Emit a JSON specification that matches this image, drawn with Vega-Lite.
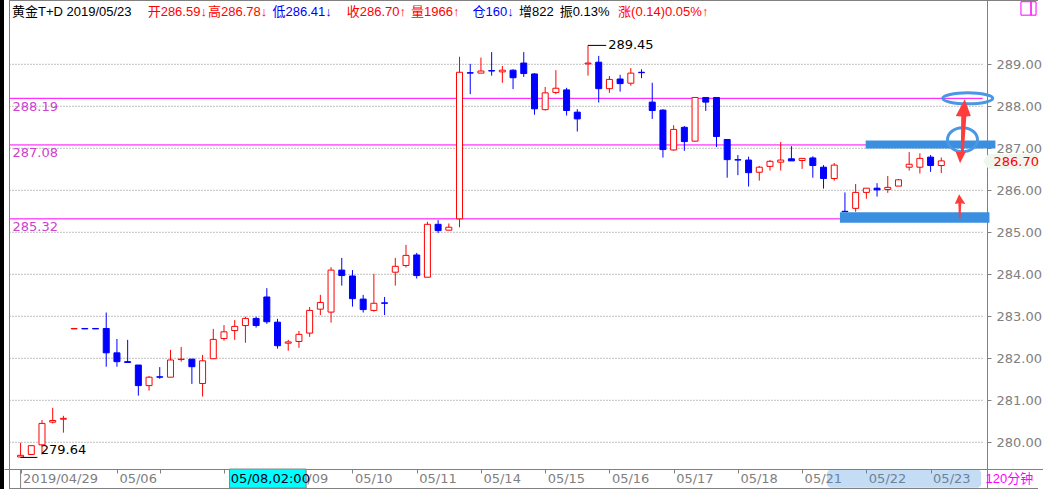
{
  "$schema": "https://vega.github.io/schema/vega-lite/v6.json",
  "width": 1039,
  "height": 489,
  "autosize": {"type": "none"},
  "padding": {"left": 4, "top": 0, "right": 0, "bottom": 0},
  "background": "#000000",
  "config": {
    "view": {"stroke": null, "fill": "#ffffff"},
    "text": {"font": "Liberation Sans, Noto Sans CJK SC", "fontSize": 13}
  },
  "datasets": {
    "k": [
      {"i":0,"o":279.65,"h":279.99,"l":279.64,"c":279.69},
      {"i":1,"o":279.71,"h":279.93,"l":279.70,"c":279.92},
      {"i":2,"o":279.94,"h":280.53,"l":279.71,"c":280.45},
      {"i":3,"o":280.48,"h":280.82,"l":280.45,"c":280.52},
      {"i":4,"o":280.55,"h":280.63,"l":280.23,"c":280.57},
      {"i":5,"o":282.70,"h":282.71,"l":282.70,"c":282.71},
      {"i":6,"o":282.71,"h":282.71,"l":282.70,"c":282.70},
      {"i":7,"o":282.71,"h":282.71,"l":282.70,"c":282.70},
      {"i":8,"o":282.71,"h":283.09,"l":281.80,"c":282.13},
      {"i":9,"o":282.13,"h":282.46,"l":281.80,"c":281.92},
      {"i":10,"o":281.92,"h":282.44,"l":281.90,"c":281.90},
      {"i":11,"o":281.84,"h":281.84,"l":281.11,"c":281.35},
      {"i":12,"o":281.35,"h":281.58,"l":281.23,"c":281.55},
      {"i":13,"o":281.56,"h":281.79,"l":281.51,"c":281.55},
      {"i":14,"o":281.55,"h":282.20,"l":281.55,"c":281.96},
      {"i":15,"o":281.97,"h":282.27,"l":281.92,"c":281.98},
      {"i":16,"o":281.98,"h":281.98,"l":281.39,"c":281.80},
      {"i":17,"o":281.40,"h":282.08,"l":281.09,"c":281.94},
      {"i":18,"o":281.99,"h":282.70,"l":281.98,"c":282.45},
      {"i":19,"o":282.47,"h":282.79,"l":282.42,"c":282.63},
      {"i":20,"o":282.66,"h":282.91,"l":282.44,"c":282.76},
      {"i":21,"o":282.78,"h":282.99,"l":282.37,"c":282.95},
      {"i":22,"o":282.95,"h":282.99,"l":282.73,"c":282.78},
      {"i":23,"o":283.46,"h":283.67,"l":282.82,"c":282.87},
      {"i":24,"o":282.86,"h":282.94,"l":282.23,"c":282.30},
      {"i":25,"o":282.36,"h":282.44,"l":282.18,"c":282.39},
      {"i":26,"o":282.40,"h":282.65,"l":282.25,"c":282.57},
      {"i":27,"o":282.60,"h":283.22,"l":282.51,"c":283.14},
      {"i":28,"o":283.17,"h":283.51,"l":283.03,"c":283.33},
      {"i":29,"o":283.10,"h":284.17,"l":282.85,"c":284.10},
      {"i":30,"o":284.10,"h":284.39,"l":283.73,"c":283.97},
      {"i":31,"o":283.96,"h":284.10,"l":283.23,"c":283.42},
      {"i":32,"o":283.41,"h":283.51,"l":283.09,"c":283.16},
      {"i":33,"o":283.14,"h":284.01,"l":283.11,"c":283.31},
      {"i":34,"o":283.32,"h":283.46,"l":283.03,"c":283.31},
      {"i":35,"o":284.05,"h":284.39,"l":283.73,"c":284.19},
      {"i":36,"o":284.21,"h":284.70,"l":284.16,"c":284.45},
      {"i":37,"o":284.46,"h":284.51,"l":283.90,"c":283.97},
      {"i":38,"o":283.93,"h":285.25,"l":283.93,"c":285.19},
      {"i":39,"o":285.19,"h":285.29,"l":284.98,"c":285.04},
      {"i":40,"o":285.05,"h":285.21,"l":285.05,"c":285.12},
      {"i":41,"o":285.32,"h":289.18,"l":285.12,"c":288.81},
      {"i":42,"o":288.80,"h":289.01,"l":288.29,"c":288.79},
      {"i":43,"o":288.79,"h":289.16,"l":288.79,"c":288.84},
      {"i":44,"o":288.85,"h":289.29,"l":288.73,"c":288.84},
      {"i":45,"o":288.82,"h":288.96,"l":288.56,"c":288.86},
      {"i":46,"o":288.86,"h":288.88,"l":288.41,"c":288.68},
      {"i":47,"o":289.03,"h":289.29,"l":288.70,"c":288.78},
      {"i":48,"o":288.77,"h":288.79,"l":287.80,"c":287.94},
      {"i":49,"o":287.92,"h":288.46,"l":287.90,"c":288.32},
      {"i":50,"o":288.33,"h":288.86,"l":288.29,"c":288.43},
      {"i":51,"o":288.39,"h":288.44,"l":287.78,"c":287.90},
      {"i":52,"o":287.86,"h":287.93,"l":287.40,"c":287.70},
      {"i":53,"o":289.01,"h":289.45,"l":288.73,"c":289.03},
      {"i":54,"o":289.05,"h":289.20,"l":288.09,"c":288.42},
      {"i":55,"o":288.42,"h":288.72,"l":288.32,"c":288.64},
      {"i":56,"o":288.65,"h":288.75,"l":288.35,"c":288.54},
      {"i":57,"o":288.55,"h":288.91,"l":288.49,"c":288.79},
      {"i":58,"o":288.81,"h":288.88,"l":288.67,"c":288.80},
      {"i":59,"o":288.10,"h":288.56,"l":287.70,"c":287.90},
      {"i":60,"o":287.91,"h":287.93,"l":286.78,"c":286.97},
      {"i":61,"o":286.96,"h":287.55,"l":286.94,"c":287.45},
      {"i":62,"o":287.50,"h":287.53,"l":286.94,"c":287.16},
      {"i":63,"o":287.17,"h":288.22,"l":287.16,"c":288.21},
      {"i":64,"o":288.21,"h":288.21,"l":287.89,"c":288.10},
      {"i":65,"o":288.21,"h":288.21,"l":287.03,"c":287.28},
      {"i":66,"o":287.21,"h":287.21,"l":286.30,"c":286.73},
      {"i":67,"o":286.73,"h":286.84,"l":286.36,"c":286.72},
      {"i":68,"o":286.72,"h":286.80,"l":286.09,"c":286.42},
      {"i":69,"o":286.43,"h":286.58,"l":286.23,"c":286.55},
      {"i":70,"o":286.57,"h":286.72,"l":286.47,"c":286.69},
      {"i":71,"o":286.67,"h":287.15,"l":286.47,"c":286.72},
      {"i":72,"o":286.75,"h":287.05,"l":286.70,"c":286.70},
      {"i":73,"o":286.71,"h":286.77,"l":286.51,"c":286.76},
      {"i":74,"o":286.77,"h":286.81,"l":286.30,"c":286.59},
      {"i":75,"o":286.55,"h":286.60,"l":286.04,"c":286.28},
      {"i":76,"o":286.28,"h":286.65,"l":286.23,"c":286.60},
      {"i":77,"o":285.50,"h":285.95,"l":285.48,"c":285.49},
      {"i":78,"o":285.57,"h":286.15,"l":285.49,"c":285.95},
      {"i":79,"o":285.95,"h":286.05,"l":285.80,"c":286.05},
      {"i":80,"o":286.05,"h":286.17,"l":285.85,"c":286.01},
      {"i":81,"o":286.02,"h":286.34,"l":285.94,"c":286.07},
      {"i":82,"o":286.10,"h":286.27,"l":286.10,"c":286.25},
      {"i":83,"o":286.55,"h":286.91,"l":286.47,"c":286.62},
      {"i":84,"o":286.55,"h":286.88,"l":286.40,"c":286.76},
      {"i":85,"o":286.79,"h":286.84,"l":286.44,"c":286.59},
      {"i":86,"o":286.59,"h":286.78,"l":286.41,"c":286.70}
    ],
    "grid": [{"p":280},{"p":281},{"p":282},{"p":283},{"p":284},{"p":285},{"p":286},{"p":287},{"p":288},{"p":289}],
    "levels": [{"p":288.19,"t":"288.19"},{"p":287.08,"t":"287.08"},{"p":285.32,"t":"285.32"}],
    "one": [{}]
  },
  "layer": [
    {
      "data": {"name": "grid"},
      "mark": {"type": "rule", "color": "#808080", "strokeDash": [1, 2]},
      "encoding": {
        "y": {"field": "p", "type": "quantitative", "scale": {"domain": [278.888, 290.531], "nice": false, "zero": false},
          "axis": {"orient": "right", "offset": -56, "values": [280,281,282,283,284,285,286,287,288,289], "format": ".2f", "title": null, "grid": false,
            "domainColor": "#808080", "tickColor": "#808080", "tickSize": 4, "labelColor": "#808080", "labelFont": "DejaVu Sans", "labelFontSize": 13,
            "labelAlign": "left", "labelBaseline": "middle", "labelPadding": 5, "labelOverlap": false, "labelFlush": false, "labelBound": false, "zindex": 0}},
        "x": {"datum": -1.036, "type": "quantitative", "scale": {"domain": [-1.0823, 95.033], "nice": false, "zero": false},
          "axis": {"orient": "bottom", "offset": -20, "values": [0,9,13,19,25,31,37,43,49,55,61,67,73,79,85],
            "labelExpr": "['2019/04/29','05/06','','','05/09','05/10','05/11','05/14','05/15','05/16','05/17','05/18','05/21','05/22','05/23'][indexof([0,9,13,19,25,31,37,43,49,55,61,67,73,79,85], datum.value)]",
            "title": null, "grid": false, "domainColor": "#808080", "tickColor": "#808080", "tickSize": 4, "labelColor": "#808080",
            "labelFont": "DejaVu Sans", "labelFontSize": 13, "labelAlign": "left", "labelBaseline": "middle", "labelPadding": 5, "labelOffset": 2,
            "labelOverlap": false, "labelFlush": false, "labelBound": false, "zindex": 0}},
        "x2": {"datum": 89.87}
      }
    },
    {
      "data": {"name": "levels"},
      "mark": {"type": "rule", "color": "#ff00ff", "strokeWidth": 1},
      "encoding": {
        "y": {"field": "p", "type": "quantitative"},
        "x": {"datum": -1.036, "type": "quantitative"},
        "x2": {"datum": 89.87}
      }
    },
    {
      "data": {"name": "levels"},
      "mark": {"type": "text", "align": "left", "baseline": "middle", "dx": 3, "dy": 8.5, "color": "#d040d0", "font": "DejaVu Sans", "fontSize": 13},
      "encoding": {
        "y": {"field": "p", "type": "quantitative"},
        "x": {"datum": -1.036, "type": "quantitative"},
        "text": {"field": "t"}
      }
    },
    {
      "data": {"name": "k"},
      "mark": {"type": "rule", "strokeWidth": 1},
      "encoding": {
        "x": {"field": "i", "type": "quantitative"},
        "y": {"field": "l", "type": "quantitative"},
        "y2": {"field": "h"},
        "color": {"condition": {"test": "datum.c > datum.o", "value": "#ff0000"}, "value": "#0000ff"}
      }
    },
    {
      "data": {"name": "k"},
      "mark": {"type": "bar", "size": 6, "strokeWidth": 1},
      "encoding": {
        "x": {"field": "i", "type": "quantitative"},
        "y": {"field": "o", "type": "quantitative"},
        "y2": {"field": "c"},
        "fill": {"condition": {"test": "datum.c > datum.o", "value": "#ffffff"}, "value": "#0000ff"},
        "stroke": {"condition": {"test": "datum.c > datum.o", "value": "#ff0000"}, "value": "#0000ff"}
      }
    },
    {
      "data": {"name": "one"},
      "mark": {"type": "rule", "color": "#000000"},
      "encoding": {"x": {"datum": 53, "type": "quantitative"}, "x2": {"datum": 54.7}, "y": {"datum": 289.45, "type": "quantitative"}}
    },
    {
      "data": {"name": "one"},
      "mark": {"type": "text", "align": "left", "baseline": "middle", "color": "#000000", "text": "289.45", "font": "DejaVu Sans", "fontSize": 13},
      "encoding": {"x": {"datum": 54.88, "type": "quantitative"}, "y": {"datum": 289.45, "type": "quantitative"}}
    },
    {
      "data": {"name": "one"},
      "mark": {"type": "rule", "color": "#000000"},
      "encoding": {"x": {"datum": 0, "type": "quantitative"}, "x2": {"datum": 1.57}, "y": {"datum": 279.64, "type": "quantitative"}}
    },
    {
      "data": {"name": "one"},
      "mark": {"type": "text", "align": "left", "baseline": "alphabetic", "dy": -3, "color": "#000000", "text": "279.64", "font": "DejaVu Sans", "fontSize": 13},
      "encoding": {"x": {"datum": 1.88, "type": "quantitative"}, "y": {"datum": 279.64, "type": "quantitative"}}
    },
    {
      "data": {"name": "one"},
      "mark": {"type": "rect", "color": "#3b8fe0"},
      "encoding": {"x": {"datum": 78.935, "type": "quantitative"}, "x2": {"datum": 91.055}, "y": {"datum": 287.186, "type": "quantitative"}, "y2": {"datum": 286.995}}
    },
    {
      "data": {"name": "one"},
      "mark": {"type": "rect", "color": "#3b8fe0"},
      "encoding": {"x": {"datum": 76.531, "type": "quantitative"}, "x2": {"datum": 90.499}, "y": {"datum": 285.476, "type": "quantitative"}, "y2": {"datum": 285.229}}
    },
    {
      "data": {"name": "one"},
      "mark": {"type": "point", "filled": false, "stroke": "#4a98e4", "strokeWidth": 3, "opacity": 1, "size": 2500,
        "shape": "M-1,0A1,0.22,0,1,1,1,0A1,0.22,0,1,1,-1,0Z"},
      "encoding": {"x": {"datum": 88.47, "type": "quantitative"}, "y": {"datum": 288.19, "type": "quantitative"}}
    },
    {
      "data": {"name": "one"},
      "mark": {"type": "point", "filled": false, "stroke": "#4a98e4", "strokeWidth": 3, "opacity": 1, "size": 900,
        "shape": "M-1,0A1,0.8,0,1,1,1,0A1,0.8,0,1,1,-1,0Z"},
      "encoding": {"x": {"datum": 87.98, "type": "quantitative"}, "y": {"datum": 287.205, "type": "quantitative"}}
    },
    {
      "data": {"name": "one"},
      "mark": {"type": "point", "filled": true, "color": "#ff3c3c", "opacity": 1, "size": 4096,
        "shape": "M0.07,-1L0.26,-0.48L0.12,-0.46L0.04,0.65L0.1,0.65L-0.075,1L-0.21,0.65L-0.05,0.65L-0.04,-0.46L-0.21,-0.48Z"},
      "encoding": {"x": {"datum": 87.98, "type": "quantitative"}, "y": {"datum": 287.405, "type": "quantitative"}}
    },
    {
      "data": {"name": "one"},
      "mark": {"type": "point", "filled": true, "color": "#ff3c3c", "opacity": 1, "size": 576,
        "shape": "M-0.06,-1L0.46,-0.2L0.12,-0.25L0.06,1L-0.08,1L-0.12,-0.25L-0.42,-0.2Z"},
      "encoding": {"x": {"datum": 87.73, "type": "quantitative"}, "y": {"datum": 285.619, "type": "quantitative"}}
    },
    {
      "data": {"name": "one"},
      "mark": {"type": "point", "filled": true, "color": "#eef6ee", "opacity": 1, "size": 3025,
        "shape": "M-1,0L-0.82,-0.27L1,-0.27L1,0.27L-0.82,0.27Z"},
      "encoding": {"x": {"datum": 92.49, "type": "quantitative"}, "y": {"datum": 286.69, "type": "quantitative"}}
    },
    {
      "data": {"name": "one"},
      "mark": {"type": "text", "align": "left", "baseline": "middle", "color": "#ff0000", "text": "286.70", "font": "DejaVu Sans", "fontSize": 13},
      "encoding": {"x": {"datum": 90.87, "type": "quantitative"}, "y": {"datum": 286.675, "type": "quantitative"}}
    },
    {
      "data": {"name": "one"},
      "mark": {"type": "rect", "color": "#3e8ade", "opacity": 0.3, "cornerRadius": 4},
      "encoding": {"x": {"datum": 75.33, "type": "quantitative"}, "x2": {"datum": 89.73}, "y": {"datum": 279.35, "type": "quantitative"}, "y2": {"datum": 278.92}}
    },
    {
      "data": {"name": "one"},
      "mark": {"type": "rect", "color": "#00ffff", "stroke": "#808080", "strokeWidth": 1},
      "encoding": {"x": {"datum": 19.52, "type": "quantitative"}, "x2": {"datum": 26.67}, "y": {"datum": 279.363, "type": "quantitative"}, "y2": {"datum": 278.91}}
    },
    {
      "data": {"name": "one"},
      "mark": {"type": "text", "align": "left", "baseline": "middle", "color": "#000020", "text": "05/08,02:00", "font": "DejaVu Sans", "fontSize": 13},
      "encoding": {"x": {"datum": 19.64, "type": "quantitative"}, "y": {"datum": 279.138, "type": "quantitative"}}
    },
    {
      "data": {"name": "one"},
      "mark": {"type": "text", "align": "left", "baseline": "middle", "color": "#ff00ff", "text": "120分钟"},
      "encoding": {"x": {"datum": 90.13, "type": "quantitative"}, "y": {"datum": 279.138, "type": "quantitative"}}
    },
    {
      "data": {"name": "one"},
      "mark": {"type": "rule", "color": "#808080"},
      "encoding": {"x": {"datum": 0, "type": "quantitative"}, "y": {"datum": 279.363, "type": "quantitative"}, "y2": {"datum": 278.9}}
    },
    {
      "data": {"name": "one"},
      "mark": {"type": "rule", "color": "#808080"},
      "encoding": {"x": {"datum": -1.036, "type": "quantitative"}, "y": {"datum": 290.531, "type": "quantitative"}, "y2": {"datum": 278.888}}
    },
    {
      "data": {"name": "one"},
      "mark": {"type": "rule", "color": "#808080"},
      "encoding": {"x": {"datum": -1.0823, "type": "quantitative"}, "x2": {"datum": 95.033}, "y": {"datum": 290.519, "type": "quantitative"}}
    },
    {
      "data": {"name": "one"},
      "mark": {"type": "rule", "color": "#808080"},
      "encoding": {"x": {"datum": -1.0823, "type": "quantitative"}, "x2": {"datum": 95.033}, "y": {"datum": 278.9, "type": "quantitative"}}
    },
    {
      "data": {"name": "one"},
      "mark": {"type": "rect", "fillOpacity": 0, "stroke": "#ff00ff", "strokeWidth": 1},
      "encoding": {"x": {"datum": 93.44, "type": "quantitative"}, "x2": {"datum": 94.38}, "y": {"datum": 290.49, "type": "quantitative"}, "y2": {"datum": 290.17}}
    },
    {
      "data": {"name": "one"},
      "mark": {"type": "rect", "fillOpacity": 0, "stroke": "#ff00ff", "strokeWidth": 1},
      "encoding": {"x": {"datum": 94.38, "type": "quantitative"}, "x2": {"datum": 94.85}, "y": {"datum": 290.49, "type": "quantitative"}, "y2": {"datum": 290.17}}
    },
    {
      "data": {"name": "one"},
      "mark": {"type": "text", "align": "left", "baseline": "middle", "color": "#000000", "text": "黄金T+D 2019/05/23"},
      "encoding": {"x": {"datum": -0.805, "type": "quantitative"}, "y": {"datum": 290.245, "type": "quantitative"}}
    },
    {
      "data": {"name": "one"},
      "mark": {"type": "text", "align": "left", "baseline": "middle", "color": "#ff0000", "text": "开286.59↓"},
      "encoding": {"x": {"datum": 11.869, "type": "quantitative"}, "y": {"datum": 290.245, "type": "quantitative"}}
    },
    {
      "data": {"name": "one"},
      "mark": {"type": "text", "align": "left", "baseline": "middle", "color": "#ff0000", "text": "高286.78↓"},
      "encoding": {"x": {"datum": 17.511, "type": "quantitative"}, "y": {"datum": 290.245, "type": "quantitative"}}
    },
    {
      "data": {"name": "one"},
      "mark": {"type": "text", "align": "left", "baseline": "middle", "color": "#0000ff", "text": "低286.41↓"},
      "encoding": {"x": {"datum": 23.525, "type": "quantitative"}, "y": {"datum": 290.245, "type": "quantitative"}}
    },
    {
      "data": {"name": "one"},
      "mark": {"type": "text", "align": "left", "baseline": "middle", "color": "#ff0000", "text": "收286.70↑"},
      "encoding": {"x": {"datum": 30.463, "type": "quantitative"}, "y": {"datum": 290.245, "type": "quantitative"}}
    },
    {
      "data": {"name": "one"},
      "mark": {"type": "text", "align": "left", "baseline": "middle", "color": "#ff0000", "text": "量1966↑"},
      "encoding": {"x": {"datum": 36.476, "type": "quantitative"}, "y": {"datum": 290.245, "type": "quantitative"}}
    },
    {
      "data": {"name": "one"},
      "mark": {"type": "text", "align": "left", "baseline": "middle", "color": "#0000ff", "text": "仓160↓"},
      "encoding": {"x": {"datum": 42.211, "type": "quantitative"}, "y": {"datum": 290.245, "type": "quantitative"}}
    },
    {
      "data": {"name": "one"},
      "mark": {"type": "text", "align": "left", "baseline": "middle", "color": "#000000", "text": "增822"},
      "encoding": {"x": {"datum": 46.559, "type": "quantitative"}, "y": {"datum": 290.245, "type": "quantitative"}}
    },
    {
      "data": {"name": "one"},
      "mark": {"type": "text", "align": "left", "baseline": "middle", "color": "#000000", "text": "振0.13%"},
      "encoding": {"x": {"datum": 50.351, "type": "quantitative"}, "y": {"datum": 290.245, "type": "quantitative"}}
    },
    {
      "data": {"name": "one"},
      "mark": {"type": "text", "align": "left", "baseline": "middle", "color": "#ff0000", "text": "涨(0.14)0.05%↑"},
      "encoding": {"x": {"datum": 55.809, "type": "quantitative"}, "y": {"datum": 290.245, "type": "quantitative"}}
    }
  ]
}
